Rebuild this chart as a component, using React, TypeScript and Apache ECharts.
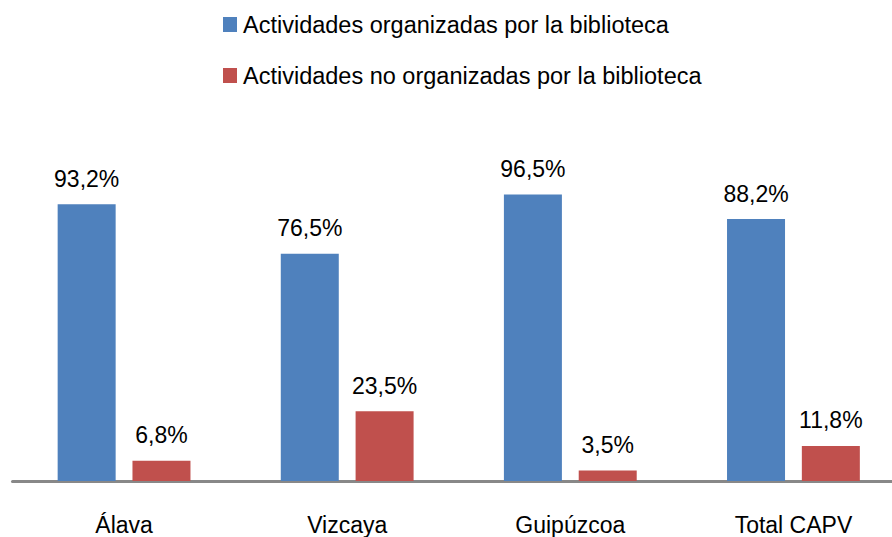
import React, { useEffect, useRef } from "react";
import * as echarts from "echarts";

const categories = ["Álava", "Vizcaya", "Guipúzcoa", "Total CAPV"];
const seriesNames = [
  "Actividades organizadas por la biblioteca",
  "Actividades no organizadas por la biblioteca",
];
const organizadas = [93.2, 76.5, 96.5, 88.2];
const noOrganizadas = [6.8, 23.5, 3.5, 11.8];

const FONT = "'Liberation Sans', Arial, sans-serif";

export default function App() {
  const ref = useRef<HTMLDivElement>(null);
  useEffect(() => {
    if (!ref.current) return;
    const chart = echarts.init(ref.current, undefined, { renderer: "svg" });
    const label = {
      show: true,
      position: "top" as const,
      distance: 14,
      color: "#000",
      fontSize: 23,
      fontFamily: FONT,
      formatter: (p: any) => p.value.toFixed(1).replace(".", ",") + "%",
    };
    chart.setOption({
      animation: false,
      textStyle: { fontFamily: FONT },
      legend: {
        orient: "vertical",
        left: 218,
        top: 7.5,
        icon: "rect",
        itemWidth: 14,
        itemHeight: 15,
        itemGap: 27,
        textStyle: { fontSize: 23.5, color: "#000", fontFamily: FONT, padding: [0, 0, 0, 1] },
        data: seriesNames,
      },
      grid: { left: 12.5, right: 0, top: 184, bottom: 56, containLabel: false },
      xAxis: {
        type: "category",
        data: categories,
        axisLine: { lineStyle: { color: "#888888", width: 3 } },
        axisTick: { show: false },
        axisLabel: { color: "#000", fontSize: 23, fontFamily: FONT, margin: 32 },
      },
      yAxis: {
        type: "value",
        min: 0,
        max: 100,
        show: false,
        splitLine: { show: false },
      },
      series: [
        {
          name: seriesNames[0],
          type: "bar",
          data: organizadas,
          barWidth: 58,
          barGap: "29%",
          itemStyle: { color: "#4F81BD" },
          label,
        },
        {
          name: seriesNames[1],
          type: "bar",
          data: noOrganizadas,
          barWidth: 58,
          barGap: "29%",
          itemStyle: { color: "#C0504D" },
          label,
        },
      ],
    });
    return () => chart.dispose();
  }, []);
  return (
    <div
      style={{
        position: "fixed",
        left: 0,
        top: 0,
        width: 892,
        height: 537,
        overflow: "hidden",
        background: "#fff",
      }}
    >
      <div ref={ref} style={{ width: 905, height: 537 }} />
    </div>
  );
}
